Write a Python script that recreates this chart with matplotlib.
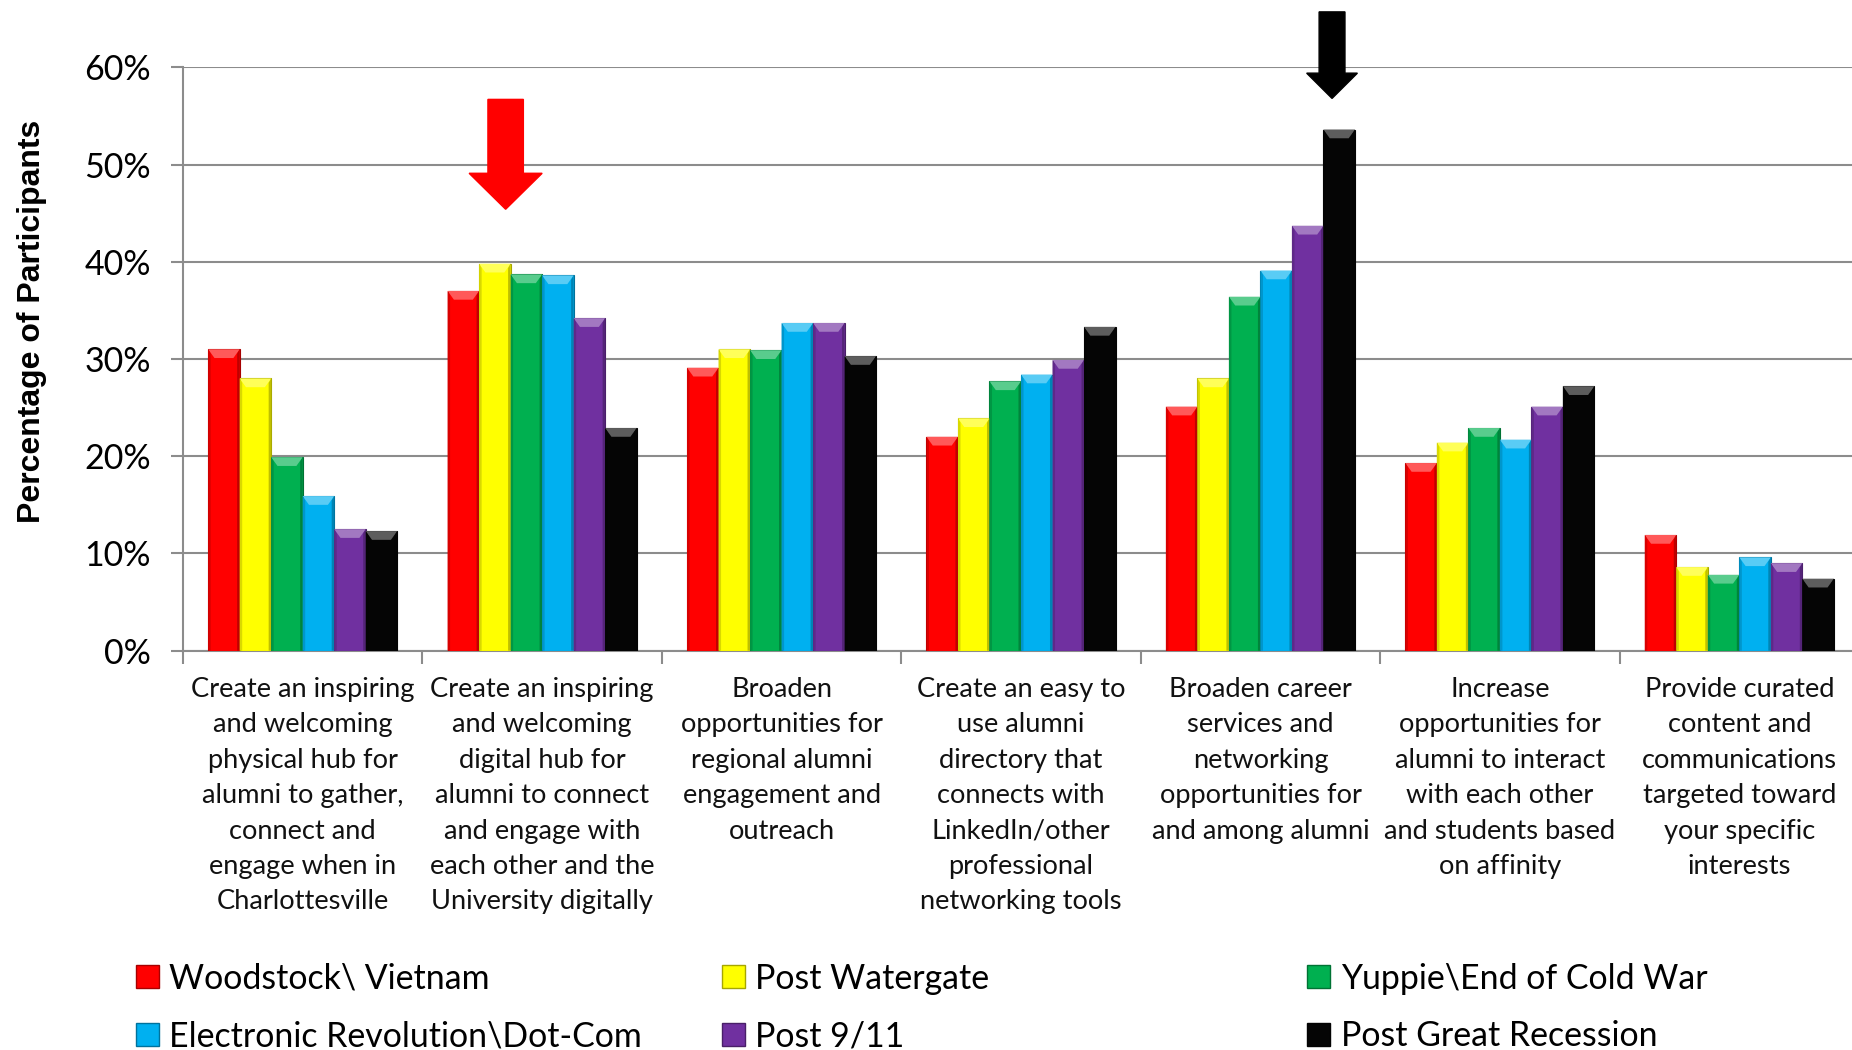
# Goals by generation: grouped bar chart with bevel-style bars

import matplotlib
matplotlib.use("Agg")
import matplotlib.pyplot as plt
import numpy as np
from matplotlib.patches import Polygon, Patch, FancyArrow
from matplotlib.colors import to_rgb
from matplotlib.ticker import PercentFormatter

plt.rcParams['font.family'] = ['Lato', 'DejaVu Sans']

categories = [
    "Create an inspiring\nand welcoming\nphysical hub for\nalumni to gather,\nconnect and\nengage when in\nCharlottesville",
    "Create an inspiring\nand welcoming\ndigital hub for\nalumni to connect\nand engage with\neach other and the\nUniversity digitally",
    "Broaden\nopportunities for\nregional alumni\nengagement and\noutreach",
    "Create an easy to\nuse alumni\ndirectory that\nconnects with\nLinkedIn/other\nprofessional\nnetworking tools",
    "Broaden career\nservices and\nnetworking\nopportunities for\nand among alumni",
    "Increase\nopportunities for\nalumni to interact\nwith each other\nand students based\non affinity",
    "Provide curated\ncontent and\ncommunications\ntargeted toward\nyour specific\ninterests",
]

generations = [
    "Woodstock\\ Vietnam",
    "Post Watergate",
    "Yuppie\\End of Cold War",
    "Electronic Revolution\\Dot-Com",
    "Post 9/11",
    "Post Great Recession",
]

colors = ["#FF0000", "#FFFF00", "#00B050", "#00B0F0", "#7030A0", "#050505"]

# percent of participants, one list per generation (in category order)
woodstock = [31.0, 37.0, 29.1, 22.0, 25.1, 19.3, 11.9]
watergate = [28.0, 39.8, 31.0, 23.9, 28.0, 21.4, 8.6]
yuppie = [19.9, 38.7, 30.9, 27.7, 36.4, 22.9, 7.8]
dotcom = [15.9, 38.6, 33.7, 28.4, 39.1, 21.7, 9.6]
post911 = [12.5, 34.2, 33.7, 29.9, 43.7, 25.1, 9.0]
recession = [12.3, 22.9, 30.3, 33.3, 53.6, 27.2, 7.4]

series = [woodstock, watergate, yuppie, dotcom, post911, recession]

# highlighted bars: (category index, series index, arrow colour)
highlights = [(1, 1, "#FF0000"), (4, 5, "#000000")]


def blend(c, other, t):
    c = np.array(to_rgb(c))
    o = np.array(to_rgb(other))
    return tuple(c * (1 - t) + o * t)


fig = plt.figure(figsize=(18.52, 10.5), dpi=100)
ax = fig.add_axes([0.0988, 0.3803, 0.905, 0.5556])

x = np.arange(len(categories))
bar_w = 0.1316
n = len(series)

for i, (vals, col) in enumerate(zip(series, colors)):
    offs = (i - (n - 1) / 2) * bar_w
    bars = ax.bar(x + offs, vals, width=bar_w, color=col,
                  edgecolor=blend(col, "black", 0.35), linewidth=0.8, zorder=3)
    # fake bevel: light cap on top, darker strips at the sides
    for b in bars:
        bx, bw, bh = b.get_x(), b.get_width(), b.get_height()
        cap = 0.9
        inset = bw * 0.2
        ax.add_patch(Polygon([(bx, bh), (bx + bw, bh), (bx + bw - inset, bh - cap),
                              (bx + inset, bh - cap)], closed=True,
                             facecolor=blend(col, "white", 0.35), edgecolor="none", zorder=4))
        side = bw * 0.08
        ax.add_patch(Polygon([(bx, 0), (bx + side, 0), (bx + side, bh - cap * 0.5), (bx, bh)],
                             closed=True, facecolor=blend(col, "black", 0.15),
                             edgecolor="none", zorder=4))
        ax.add_patch(Polygon([(bx + bw - side, 0), (bx + bw, 0), (bx + bw, bh),
                              (bx + bw - side, bh - cap * 0.5)],
                             closed=True, facecolor=blend(col, "black", 0.25),
                             edgecolor="none", zorder=4))

# arrows pointing at the highlighted bars
for ci, si, acol in highlights:
    bx = x[ci] + (si - (n - 1) / 2) * bar_w
    top = series[si][ci]
    if ci == 1:
        ax.add_patch(FancyArrow(bx + 0.045, 56.7, 0, -(56.7 - top - 5.6), width=0.148,
                                head_width=0.305, head_length=3.7,
                                length_includes_head=True, color=acol, zorder=5, clip_on=False))
    else:
        ax.add_patch(FancyArrow(bx - 0.03, 65.7, 0, -(65.7 - top - 3.2), width=0.108,
                                head_width=0.212, head_length=2.6,
                                length_includes_head=True, color=acol, zorder=5, clip_on=False))

ax.set_xlim(-0.5, len(categories) - 0.5)
ax.set_ylim(0, 60)
ax.set_yticks(np.arange(0, 61, 10))
ax.yaxis.set_major_formatter(PercentFormatter(decimals=0))
ax.grid(axis="y", color="#8C8C8C", linewidth=1.5, zorder=0)
ax.set_axisbelow(True)

# category boundaries as tick marks, labels centered between
ax.set_xticks(np.arange(len(categories) + 1) - 0.5)
ax.set_xticklabels([])
ax.set_xticks(x, minor=True)
ax.set_xticklabels(categories, minor=True, fontsize=19.6, linespacing=1.52, color="#111111")
ax.tick_params(axis="x", which="major", length=9, width=1.5, color="#8C8C8C", direction="out")
ax.tick_params(axis="x", which="minor", length=0, pad=19)
ax.tick_params(axis="y", length=9, width=1.5, color="#8C8C8C", labelsize=24.5, pad=14)

for s in ["top", "right"]:
    ax.spines[s].set_visible(False)
for s in ["left", "bottom"]:
    ax.spines[s].set_color("#8C8C8C")
    ax.spines[s].set_linewidth(1.5)

ax.set_ylabel("Percentage of Participants", fontsize=23, fontweight="bold",
              family=["Liberation Sans", "DejaVu Sans"])
ax.yaxis.set_label_coords(-0.081, 0.565)

# legend: three columns of two entries each
col_x = [0.0733, 0.3896, 0.7059]
for c in range(3):
    idx = [c, c + 3]
    handles = [Patch(facecolor=colors[k], edgecolor=blend(colors[k], "black", 0.35),
                     label=generations[k]) for k in idx]
    fig.legend(handles=handles, loc="upper left", bbox_to_anchor=(col_x[c], 0.0833),
               frameon=False, fontsize=24.4, handlelength=0.68, handleheight=0.68,
               handletextpad=0.3, labelspacing=0.76, borderaxespad=0, borderpad=0)

fig.savefig("out.png", dpi=100)
